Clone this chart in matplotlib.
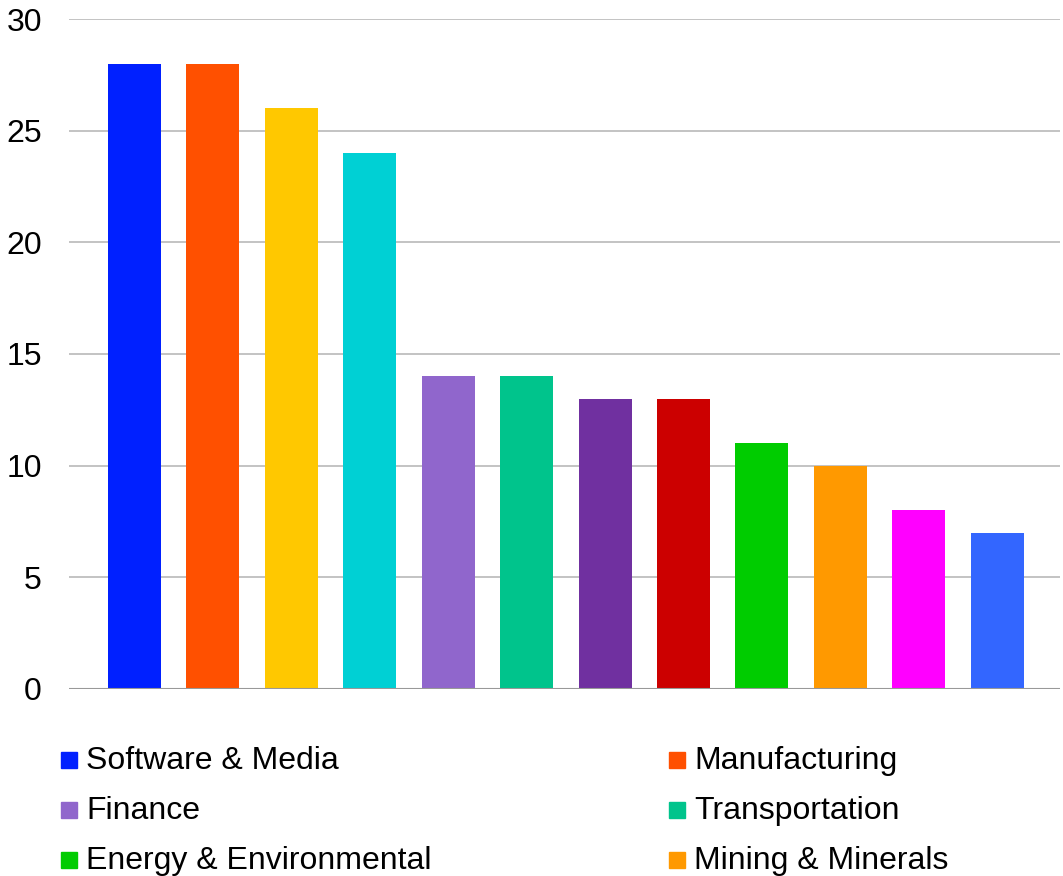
import matplotlib.pyplot as plt
from matplotlib.patches import Rectangle

# ---------------------------------------------
# DATA
# ---------------------------------------------
categories = ['Software & Media', 'Manufacturing', 'Category 3', 'Category 4',
              'Finance', 'Transportation', 'Category 7', 'Category 8',
              'Energy & Environmental', 'Mining & Minerals', 'Category 11', 'Category 12']
values = [28, 28, 26, 24, 14, 14, 13, 13, 11, 10, 8, 7]
colors = ['#0020FF', '#FF5000', '#FFC800', '#00D0D4', '#9066CC', '#00C48C',
          '#7030A0', '#CC0000', '#00CC00', '#FF9900', '#FF00FF', '#3366FF']
legend_shown = [0, 1, 4, 5, 8, 9]   # the rest of the legend is cut off in the source
yticks = [0, 5, 10, 15, 20, 25, 30]

# ---------------------------------------------
# PLOT
# ---------------------------------------------
plt.rcParams['font.family'] = ['Liberation Sans', 'DejaVu Sans']

fig = plt.figure(figsize=(10.63, 8.76), dpi=100)
ax = fig.add_axes([0.0649, 0.2135, 0.9323, 0.7648])

x = list(range(len(values)))
ax.bar(x, values, width=0.676, color=colors, zorder=3)

ax.set_ylim(0, 30)
ax.set_xlim(-0.835, 11.80)
ax.set_yticks(yticks)
ax.set_xticks([])
ax.grid(axis='y', color='#B3B3B3', linewidth=1.1, zorder=0)
ax.axhline(0, color='#999999', linewidth=1.5, zorder=4)
for s in ax.spines.values():
    s.set_visible(False)
ax.tick_params(axis='y', length=0, pad=19.5, labelsize=23)

# legend (two visible columns, three rows)
for i, idx in enumerate(legend_shown):
    row, col = i // 2, i % 2
    x0 = 61 if col == 0 else 669
    yc = 760 + row * 50
    fig.patches.append(Rectangle((x0 / 1063, 1 - (yc + 8) / 876), 16 / 1063, 16 / 876,
                                 transform=fig.transFigure, color=colors[idx]))
    fig.text((x0 + 25) / 1063, 1 - (yc + 1) / 876, categories[idx], fontsize=23,
             va='center', ha='left')

fig.savefig('out.png', dpi=100)
